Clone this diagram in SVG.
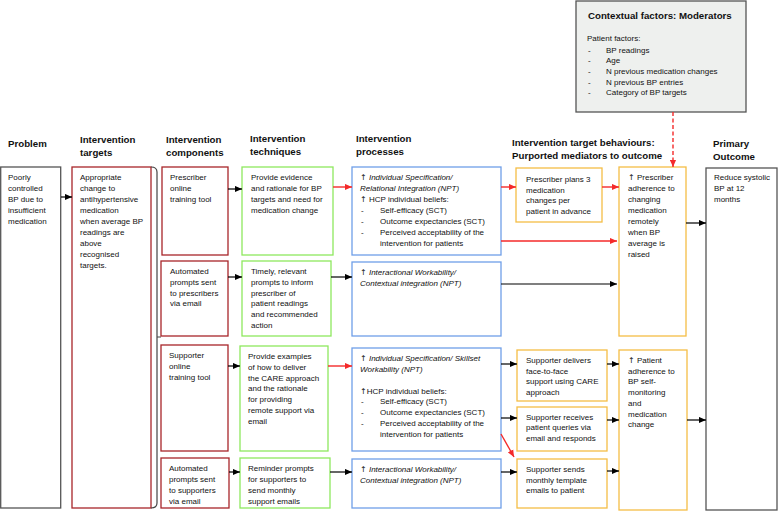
<svg xmlns="http://www.w3.org/2000/svg" width="779" height="512" viewBox="0 0 779 512">
<style>
text{font-family:"Liberation Sans",Arial,sans-serif;font-size:8px;fill:#111}
.h{font-weight:bold;font-size:9.7px}
.i{font-style:italic}
.ar{font-family:"DejaVu Sans",sans-serif;font-style:normal}
.bx{fill:#fff;stroke-width:1.3}
.gray{stroke:#555}
.red{stroke:#a8262a}
.grn{stroke:#8ee85e}
.blu{stroke:#6f9fe8}
.org{stroke:#f5be45}
.ln{stroke:#000;stroke-width:1.2;fill:none}
.lr{stroke:#f42a2a;stroke-width:1.4;fill:none}
</style>
<defs>
<marker id="ab" viewBox="0 0 8 8" refX="8" refY="4" markerWidth="7" markerHeight="7" markerUnits="userSpaceOnUse" orient="auto"><path d="M0,0.5 L8,4 L0,7.5 z" fill="#000"/></marker>
<marker id="ar" viewBox="0 0 8 8" refX="8" refY="4" markerWidth="7" markerHeight="7" markerUnits="userSpaceOnUse" orient="auto"><path d="M0,0.5 L8,4 L0,7.5 z" fill="#f42a2a"/></marker>
</defs>

<g id="headers">
<text class="h" x="8" y="146.5">Problem</text>
<text class="h" x="80" y="142.5">Intervention<tspan x="80" dy="13">targets</tspan></text>
<text class="h" x="166" y="142.5">Intervention<tspan x="166" dy="13">components</tspan></text>
<text class="h" x="250" y="141.5">Intervention<tspan x="250" dy="13">techniques</tspan></text>
<text class="h" x="356" y="141.5">Intervention<tspan x="356" dy="13">processes</tspan></text>
<text class="h" x="512" y="145.5">Intervention target behaviours:<tspan x="512" dy="13">Purported mediators to outcome</tspan></text>
<text class="h" x="713" y="146.5">Primary<tspan x="713" dy="13">Outcome</tspan></text>
</g>

<g id="moderators">
<rect x="576" y="1" width="170" height="111" fill="#eef0ee" stroke="#555" stroke-width="1.3"/>
<text class="h" x="588" y="19">Contextual factors: Moderators</text>
<text x="587" y="41">Patient factors:</text>
<text x="588" y="52.5">-<tspan x="606">BP readings</tspan></text>
<text x="588" y="63">-<tspan x="606">Age</tspan></text>
<text x="588" y="74">-<tspan x="606">N previous medication changes</tspan></text>
<text x="588" y="84.5">-<tspan x="606">N previous BP entries</tspan></text>
<text x="588" y="95">-<tspan x="606">Category of BP targets</tspan></text>
</g>

<g id="problem">
<rect class="bx gray" x="0.7" y="167" width="60" height="341"/>
<text x="8" y="180.3">Poorly<tspan x="8" dy="10.9">controlled</tspan><tspan x="8" dy="10.9">BP due to</tspan><tspan x="8" dy="10.9">insufficient</tspan><tspan x="8" dy="10.9">medication</tspan></text>
</g>

<g id="targets">
<rect class="bx red" x="72" y="167" width="79" height="341"/>
<text x="80" y="180.3">Appropriate<tspan x="80" dy="10.9">change to</tspan><tspan x="80" dy="10.9">antihypertensive</tspan><tspan x="80" dy="10.9">medication</tspan><tspan x="80" dy="10.9">when average BP</tspan><tspan x="80" dy="10.9">readings are</tspan><tspan x="80" dy="10.9">above</tspan><tspan x="80" dy="10.9">recognised</tspan><tspan x="80" dy="10.9">targets.</tspan></text>
<path d="M151,167 Q157,167 157,172 L157,503 Q157,508 151,508 M157,337 L161,337" fill="none" stroke="#444" stroke-width="1.2"/>
</g>

<g id="comp1">
<rect class="bx red" x="162" y="167" width="66" height="88"/>
<text x="170" y="180.3">Prescriber<tspan x="170" dy="10.9">online</tspan><tspan x="170" dy="10.9">training tool</tspan></text>
</g>
<g id="comp2">
<rect class="bx red" x="161" y="261" width="67" height="75"/>
<text x="170" y="273.7">Automated<tspan x="170" dy="10.9">prompts sent</tspan><tspan x="170" dy="10.9">to prescribers</tspan><tspan x="170" dy="10.9">via email</tspan></text>
</g>
<g id="comp3">
<rect class="bx red" x="161" y="345" width="67" height="106"/>
<text x="169" y="358">Supporter<tspan x="169" dy="10.9">online</tspan><tspan x="169" dy="10.9">training tool</tspan></text>
</g>
<g id="comp4">
<rect class="bx red" x="161" y="458" width="68" height="50"/>
<text x="169" y="471.3">Automated<tspan x="169" dy="10.9">prompts sent</tspan><tspan x="169" dy="10.9">to supporters</tspan><tspan x="169" dy="10.9">via email</tspan></text>
</g>

<g id="tech1">
<rect class="bx grn" x="242" y="167" width="91" height="88"/>
<text x="251" y="180.3">Provide evidence<tspan x="251" dy="10.9">and rationale for BP</tspan><tspan x="251" dy="10.9">targets and need for</tspan><tspan x="251" dy="10.9">medication change</tspan></text>
</g>
<g id="tech2">
<rect class="bx grn" x="242" y="261" width="89" height="75"/>
<text x="251" y="273.7">Timely, relevant<tspan x="251" dy="10.9">prompts to inform</tspan><tspan x="251" dy="10.9">prescriber of</tspan><tspan x="251" dy="10.9">patient readings</tspan><tspan x="251" dy="10.9">and recommended</tspan><tspan x="251" dy="10.9">action</tspan></text>
</g>
<g id="tech3">
<rect class="bx grn" x="240" y="346" width="88" height="105"/>
<text x="248" y="358.7">Provide examples<tspan x="248" dy="10.9">of how to deliver</tspan><tspan x="248" dy="10.9">the CARE approach</tspan><tspan x="248" dy="10.9">and the rationale</tspan><tspan x="248" dy="10.9">for providing</tspan><tspan x="248" dy="10.9">remote support via</tspan><tspan x="248" dy="10.9">email</tspan></text>
</g>
<g id="tech4">
<rect class="bx grn" x="240" y="458" width="90" height="50"/>
<text x="248" y="471.3">Reminder prompts<tspan x="248" dy="10.9">for supporters to</tspan><tspan x="248" dy="10.9">send monthly</tspan><tspan x="248" dy="10.9">support emails</tspan></text>
</g>

<g id="proc1">
<rect class="bx blu" x="352" y="167" width="149" height="88"/>
<text x="360" y="180.3"><tspan class="ar">↑</tspan> <tspan class="i">Individual Specification/</tspan></text>
<text class="i" x="360" y="191.2">Relational Integration (NPT)</text>
<text x="360" y="202.1"><tspan class="ar">↑</tspan> HCP individual beliefs:</text>
<text x="361" y="213">-<tspan x="380">Self-efficacy (SCT)</tspan></text>
<text x="361" y="223.9">-<tspan x="380">Outcome expectancies (SCT)</tspan></text>
<text x="361" y="234.8">-<tspan x="380">Perceived acceptability of the</tspan></text>
<text x="380" y="245.7">intervention for patients</text>
</g>
<g id="proc2">
<rect class="bx blu" x="352" y="262" width="149" height="74"/>
<text x="360" y="274.7"><tspan class="ar">↑</tspan> <tspan class="i">Interactional Workability/</tspan></text>
<text class="i" x="360" y="285.6">Contextual integration (NPT)</text>
</g>
<g id="proc3">
<rect class="bx blu" x="352" y="348" width="149" height="103"/>
<text x="360" y="360.7"><tspan class="ar">↑</tspan> <tspan class="i">Individual Specification/ Skillset</tspan></text>
<text class="i" x="360" y="371.6">Workability (NPT)</text>
<text x="360" y="393.7"><tspan class="ar">↑</tspan>HCP individual beliefs:</text>
<text x="361" y="404.4">-<tspan x="380">Self-efficacy (SCT)</tspan></text>
<text x="361" y="415.3">-<tspan x="380">Outcome expectancies (SCT)</tspan></text>
<text x="361" y="426.1">-<tspan x="380">Perceived acceptability of the</tspan></text>
<text x="380" y="437">intervention for patients</text>
</g>
<g id="proc4">
<rect class="bx blu" x="352" y="459" width="149" height="49"/>
<text x="360" y="472"><tspan class="ar">↑</tspan> <tspan class="i">Interactional Workability/</tspan></text>
<text class="i" x="360" y="482.9">Contextual integration (NPT)</text>
</g>

<g id="beh1">
<rect class="bx org" x="516" y="168" width="86" height="54"/>
<text x="526" y="182">Prescriber plans 3<tspan x="526" dy="10.7">medication</tspan><tspan x="526" dy="10.7">changes per</tspan><tspan x="526" dy="10.7">patient in advance</tspan></text>
</g>
<g id="adh1">
<rect class="bx org" x="619" y="167" width="67" height="169"/>
<text x="628" y="180.3"><tspan class="ar">↑</tspan> Prescriber<tspan x="628" dy="10.9">adherence to</tspan><tspan x="628" dy="10.9">changing</tspan><tspan x="628" dy="10.9">medication</tspan><tspan x="628" dy="10.9">remotely</tspan><tspan x="628" dy="10.9">when BP</tspan><tspan x="628" dy="10.9">average is</tspan><tspan x="628" dy="10.9">raised</tspan></text>
</g>
<g id="beh2">
<rect class="bx org" x="517" y="350" width="90" height="51"/>
<text x="526" y="363">Supporter delivers<tspan x="526" dy="10.7">face-to-face</tspan><tspan x="526" dy="10.7">support using CARE</tspan><tspan x="526" dy="10.7">approach</tspan></text>
</g>
<g id="beh3">
<rect class="bx org" x="517" y="407" width="90" height="44"/>
<text x="526" y="419.7">Supporter receives<tspan x="526" dy="10.7">patient queries via</tspan><tspan x="526" dy="10.7">email and responds</tspan></text>
</g>
<g id="beh4">
<rect class="bx org" x="517" y="459" width="90" height="49"/>
<text x="526" y="472">Supporter sends<tspan x="526" dy="10.7">monthly template</tspan><tspan x="526" dy="10.7">emails to patient</tspan></text>
</g>
<g id="adh2">
<rect class="bx org" x="619" y="350" width="68" height="160"/>
<text x="628" y="363"><tspan class="ar">↑</tspan> Patient<tspan x="628" dy="10.7">adherence to</tspan><tspan x="628" dy="10.7">BP self-</tspan><tspan x="628" dy="10.7">monitoring</tspan><tspan x="628" dy="10.7">and</tspan><tspan x="628" dy="10.7">medication</tspan><tspan x="628" dy="10.7">change</tspan></text>
</g>
<g id="outcome">
<rect class="bx gray" x="706" y="168" width="71" height="342"/>
<text x="714" y="180.3">Reduce systolic<tspan x="714" dy="10.9">BP at 12</tspan><tspan x="714" dy="10.9">months</tspan></text>
</g>

<g id="connectors">
<line class="ln" x1="61" y1="197" x2="72" y2="197" marker-end="url(#ab)"/>
<line class="ln" x1="228" y1="189" x2="242" y2="189" marker-end="url(#ab)"/>
<line class="ln" x1="228" y1="277" x2="242" y2="277" marker-end="url(#ab)"/>
<line class="ln" x1="228" y1="366" x2="240" y2="366" marker-end="url(#ab)"/>
<line class="ln" x1="229" y1="472" x2="240" y2="472" marker-end="url(#ab)"/>
<line class="lr" x1="333" y1="187" x2="352" y2="187" marker-end="url(#ar)"/>
<line class="ln" x1="331" y1="277" x2="352" y2="277" marker-end="url(#ab)"/>
<line class="lr" x1="328" y1="366" x2="352" y2="366" marker-end="url(#ar)"/>
<line class="ln" x1="330" y1="472" x2="352" y2="472" marker-end="url(#ab)"/>
<line class="lr" x1="501" y1="187" x2="516" y2="187" marker-end="url(#ar)"/>
<line class="lr" x1="602" y1="187" x2="619" y2="187" marker-end="url(#ar)"/>
<line class="lr" x1="501" y1="241" x2="617" y2="241" marker-end="url(#ar)"/>
<line class="ln" x1="501" y1="284" x2="617" y2="284" marker-end="url(#ab)"/>
<line class="ln" x1="686" y1="223" x2="706" y2="223" marker-end="url(#ab)"/>
<line class="ln" x1="501" y1="364" x2="517" y2="364" marker-end="url(#ab)"/>
<line class="ln" x1="501" y1="418" x2="517" y2="418" marker-end="url(#ab)"/>
<line class="lr" x1="501" y1="434" x2="514" y2="457" marker-end="url(#ar)"/>
<line class="ln" x1="501" y1="472" x2="517" y2="472" marker-end="url(#ab)"/>
<line class="ln" x1="607" y1="364" x2="619" y2="364" marker-end="url(#ab)"/>
<line class="ln" x1="607" y1="420" x2="619" y2="420" marker-end="url(#ab)"/>
<line class="ln" x1="607" y1="471" x2="619" y2="471" marker-end="url(#ab)"/>
<line class="ln" x1="687" y1="420" x2="706" y2="420" marker-end="url(#ab)"/>
<line class="lr" x1="673" y1="112" x2="673" y2="167" stroke-dasharray="4,2.5" marker-end="url(#ar)"/>
</g>
</svg>
